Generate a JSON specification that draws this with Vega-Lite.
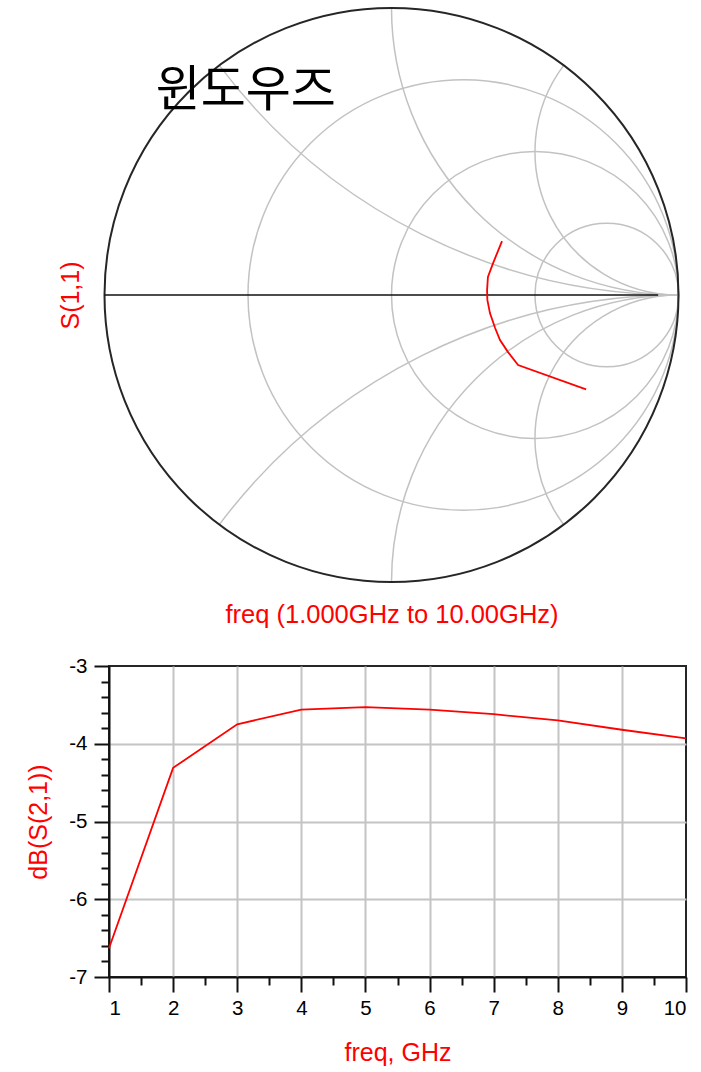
{
  "$schema": "https://vega.github.io/schema/vega-lite/v6.json",
  "background": "white",
  "padding": {"left": 25, "top": 4, "right": 0, "bottom": 0},
  "spacing": 84,
  "bounds": "flush",
  "config": {"view": {"stroke": null}, "font": "Liberation Sans"},
  "vconcat": [
    {
      "width": 577,
      "height": 574,
      "encoding": {
        "x": {"field": "x", "type": "quantitative",
          "scale": {"domain": [-1, 1], "range": [-4.5, 569.5], "nice": false, "zero": false},
          "axis": {"title": "freq (1.000GHz to 10.00GHz)", "labels": false, "ticks": false, "domain": false, "grid": false,
            "titleColor": "#ff0000", "titleFont": "Liberation Sans", "titleFontSize": 25.5, "titleFontWeight": "normal", "titlePadding": 20}},
        "y": {"field": "y", "type": "quantitative",
          "scale": {"domain": [-1, 1], "nice": false, "zero": false},
          "axis": {"title": "S(1,1)", "labels": false, "ticks": false, "domain": false, "grid": false,
            "titleColor": "#ff0000", "titleFont": "Liberation Sans", "titleFontSize": 25, "titleFontWeight": "normal", "titlePadding": 26}}
      },
      "layer": [
        {
          "data": {"values": [
            {"name": "r=1/3", "x": 0.25, "y": 0, "rad": 0.75, "a0": 0, "a1": 360},
            {"name": "r=1", "x": 0.5, "y": 0, "rad": 0.5, "a0": 0, "a1": 360},
            {"name": "r=3", "x": 0.75, "y": 0, "rad": 0.25, "a0": 0, "a1": 360},
            {"name": "x=0.5", "x": 1, "y": 2, "rad": 2, "a0": 180, "a1": 233.13},
            {"name": "x=1", "x": 1, "y": 1, "rad": 1, "a0": 180, "a1": 270},
            {"name": "x=2", "x": 1, "y": 0.5, "rad": 0.5, "a0": 180, "a1": 306.87},
            {"name": "x=-0.5", "x": 1, "y": -2, "rad": 2, "a0": 306.87, "a1": 360},
            {"name": "x=-1", "x": 1, "y": -1, "rad": 1, "a0": 270, "a1": 360},
            {"name": "x=-2", "x": 1, "y": -0.5, "rad": 0.5, "a0": 233.13, "a1": 360}
          ]},
          "mark": {"type": "arc", "filled": false, "stroke": "#c2c2c2", "strokeWidth": 1.5},
          "encoding": {
            "theta": {"field": "a0", "type": "quantitative", "scale": {"domain": [0, 360], "range": [0, 6.283185307179586]}, "stack": null},
            "theta2": {"field": "a1"},
            "radius": {"field": "rad", "type": "quantitative", "scale": {"type": "linear", "domain": [0, 1], "range": [0, 287], "zero": true}, "stack": null},
            "radius2": {"field": "rad"}
          }
        },
        {
          "data": {"values": [{"name": "r=0", "x": 0, "y": 0, "rad": 1, "a0": 0, "a1": 360}]},
          "mark": {"type": "arc", "filled": false, "stroke": "#262626", "strokeWidth": 2},
          "encoding": {
            "theta": {"field": "a0", "type": "quantitative", "stack": null},
            "theta2": {"field": "a1"},
            "radius": {"field": "rad", "type": "quantitative", "stack": null},
            "radius2": {"field": "rad"}
          }
        },
        {
          "data": {"values": [{"x": -1, "x2": 0.929, "y": 0}]},
          "mark": {"type": "rule", "color": "#111111", "strokeWidth": 1.6},
          "encoding": {"x2": {"field": "x2"}}
        },
        {
          "data": {"values": [
            {"seq": 1, "x": 0.385, "y": 0.188},
            {"seq": 2, "x": 0.354, "y": 0.111},
            {"seq": 3, "x": 0.336, "y": 0.063},
            {"seq": 4, "x": 0.333, "y": 0.017},
            {"seq": 5, "x": 0.334, "y": -0.017},
            {"seq": 6, "x": 0.343, "y": -0.063},
            {"seq": 7, "x": 0.361, "y": -0.115},
            {"seq": 8, "x": 0.378, "y": -0.157},
            {"seq": 9, "x": 0.406, "y": -0.199},
            {"seq": 10, "x": 0.441, "y": -0.244},
            {"seq": 11, "x": 0.678, "y": -0.329}
          ]},
          "mark": {"type": "line", "color": "#ff0000", "strokeWidth": 1.8},
          "encoding": {"order": {"field": "seq", "type": "quantitative"}}
        },
        {
          "data": {"values": [{"label": "윈도우즈", "x": -0.508, "y": 0.712}]},
          "mark": {"type": "text", "font": "Noto Sans CJK KR", "fontSize": 49, "color": "#000000", "align": "center", "baseline": "middle"},
          "encoding": {"text": {"field": "label"}}
        }
      ]
    },
    {
      "width": 577,
      "height": 311,
      "view": {"stroke": "#262626", "strokeWidth": 2},
      "data": {"values": [
        {"f": 1, "db": -6.63},
        {"f": 2, "db": -4.31},
        {"f": 3, "db": -3.75},
        {"f": 4, "db": -3.56},
        {"f": 5, "db": -3.53},
        {"f": 6, "db": -3.56},
        {"f": 7, "db": -3.62},
        {"f": 8, "db": -3.70},
        {"f": 9, "db": -3.82},
        {"f": 10, "db": -3.93}
      ]},
      "layer": [
        {
          "mark": {"type": "line", "color": "#ff0000", "strokeWidth": 1.8},
          "encoding": {
            "x": {"field": "f", "type": "quantitative",
              "scale": {"domain": [1, 10], "nice": false, "zero": false},
              "axis": {"title": "freq, GHz", "values": [1, 2, 3, 4, 5, 6, 7, 8, 9, 10], "format": "d",
                "tickSize": 15, "tickWidth": 2, "tickColor": "#111111",
                "domainColor": "#111111", "domainWidth": 2,
                "labelFont": "Liberation Sans", "labelFontSize": 20.5, "labelColor": "#000000", "labelPadding": 6,
                "grid": true, "gridColor": "#c4c4c4", "gridWidth": 2,
                "gridOpacity": {"condition": {"test": "datum.value == 10 || datum.value == 1", "value": 0}, "value": 1},
                "titleColor": "#ff0000", "titleFont": "Liberation Sans", "titleFontSize": 25, "titleFontWeight": "normal", "titlePadding": 22}},
            "y": {"field": "db", "type": "quantitative",
              "scale": {"domain": [-7, -3], "nice": false, "zero": false},
              "axis": {"title": "dB(S(2,1))", "values": [-7, -6, -5, -4, -3], "format": "d",
                "labelExpr": "replace(datum.label, '−', '-')",
                "tickSize": 15, "tickWidth": 2, "tickColor": "#111111",
                "domainColor": "#111111", "domainWidth": 2,
                "labelFont": "Liberation Sans", "labelFontSize": 20.5, "labelColor": "#000000", "labelPadding": 7,
                "grid": true, "gridColor": "#c4c4c4", "gridWidth": 2,
                "gridOpacity": {"condition": {"test": "datum.value == -3 || datum.value == -7", "value": 0}, "value": 1},
                "titleColor": "#ff0000", "titleFont": "Liberation Sans", "titleFontSize": 25, "titleFontWeight": "normal", "titlePadding": 17}}
          }
        },
        {
          "mark": {"type": "line", "strokeOpacity": 0},
          "encoding": {
            "x": {"field": "f", "type": "quantitative",
              "axis": {"orient": "bottom", "title": null, "values": [1.5, 2.5, 3.5, 4.5, 5.5, 6.5, 7.5, 8.5, 9.5],
                "labels": false, "domain": false, "grid": false, "tickSize": 8, "tickWidth": 2, "tickColor": "#111111"}},
            "y": {"field": "db", "type": "quantitative",
              "axis": {"orient": "left", "title": null, "values": [-6.8, -6.6, -6.4, -6.2, -5.8, -5.6, -5.4, -5.2, -4.8, -4.6, -4.4, -4.2, -3.8, -3.6, -3.4, -3.2],
                "labels": false, "domain": false, "grid": false, "tickSize": 8, "tickWidth": 2, "tickColor": "#111111"}}
          }
        }
      ],
      "resolve": {"axis": {"x": "independent", "y": "independent"}}
    }
  ]
}
